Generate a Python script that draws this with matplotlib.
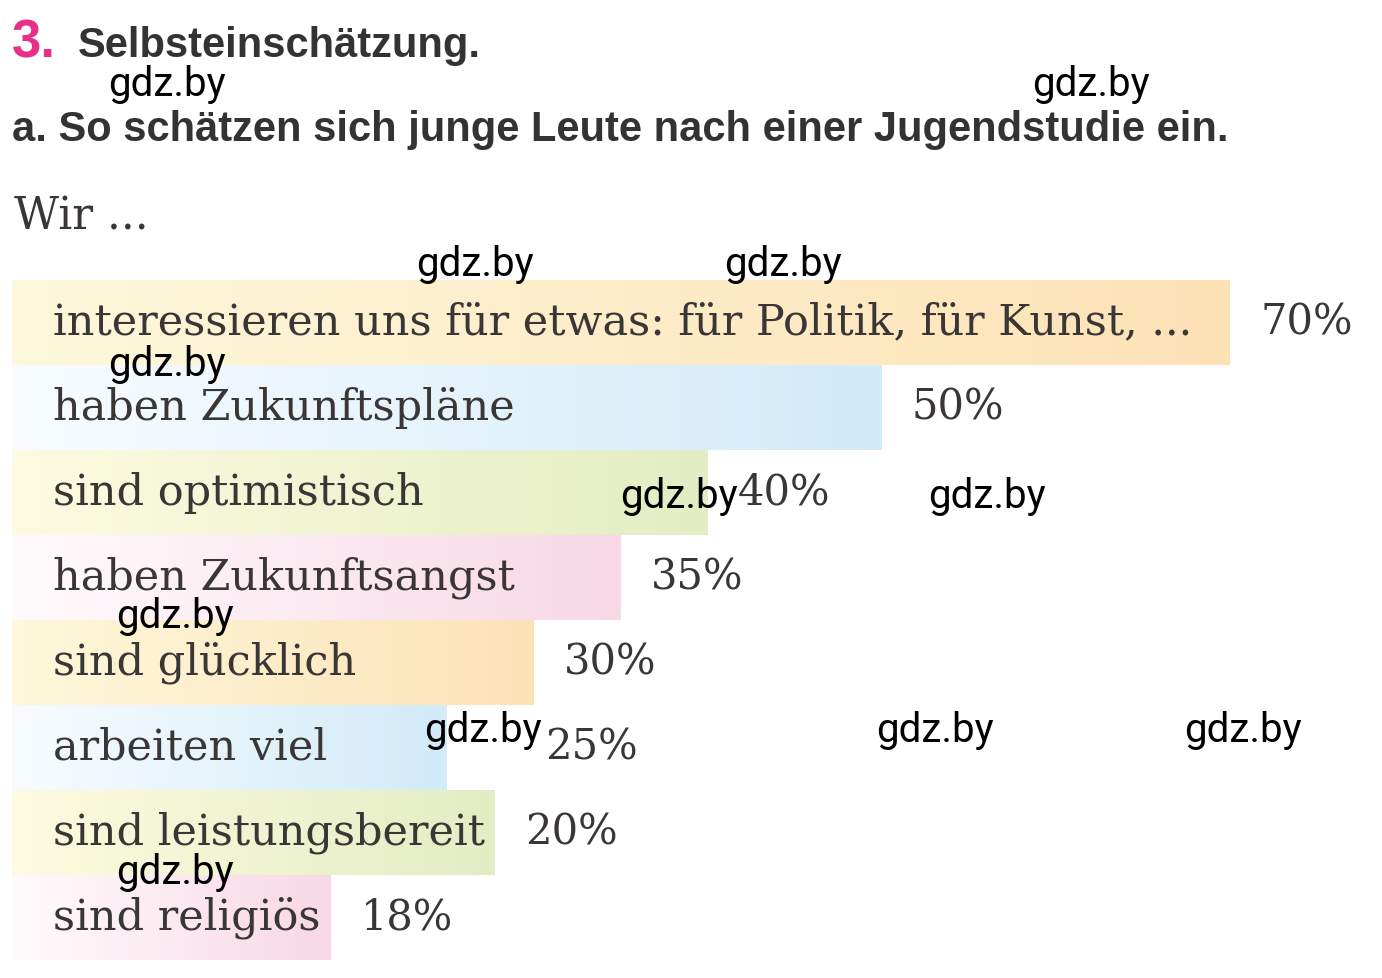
import matplotlib.pyplot as plt
import numpy as np
from matplotlib.colors import LinearSegmentedColormap

# chart data
labels = [
    "interessieren uns für etwas: für Politik, für Kunst, ...",
    "haben Zukunftspläne",
    "sind optimistisch",
    "haben Zukunftsangst",
    "sind glücklich",
    "arbeiten viel",
    "sind leistungsbereit",
    "sind religiös",
]
values = [70, 50, 40, 35, 30, 25, 20, 18]
value_labels = [f"{v}%" for v in values]

# gradient colours, left (pale) -> right (full)
start_colors = ["#fef8dc", "#f8fcff", "#fdfbe0", "#fffbfd"] * 2
end_colors = ["#fde2b6", "#d2ebf8", "#e3edc4", "#f8d8e5"] * 2

# watermark text positions (pixels, left / vertical centre)
watermark_pos = [
    (108, 85), (1032, 85), (416, 265), (724, 265), (108, 365),
    (620, 497), (928, 497), (116, 617), (424, 730), (876, 730),
    (1184, 730), (116, 873),
]

W, H = 1382, 979
fig = plt.figure(figsize=(W / 100, H / 100), dpi=100)
fig.patch.set_facecolor("white")


def fx(x):
    return x / W


def fy(y):
    return 1 - y / H


text_color = "#3a3636"
serif = "DejaVu Serif"
renderer = fig.canvas.get_renderer()

# headings
fig.text(fx(12), fy(57), "3.", fontsize=38, fontweight="heavy", color="#e8308a",
         family="Liberation Sans", va="baseline")
fig.text(fx(78), fy(57), "Selbsteinschätzung.", fontsize=30, fontweight="bold",
         color="#333333", family="Liberation Sans", va="baseline")
fig.text(fx(12), fy(141), "a. So schätzen sich junge Leute nach einer Jugendstudie ein.",
         fontsize=30, fontweight="bold", color="#333333", family="Liberation Sans",
         va="baseline")
fig.text(fx(14), fy(230), "Wir ...", fontsize=31.5, color=text_color, family=serif,
         va="baseline")

# watermarks
wm_boxes = []
for x, y in watermark_pos:
    wm = fig.text(fx(x), fy(y), "gdz.by", fontsize=29, color="black", family="Roboto",
                  va="center", ha="left", zorder=10)
    wm_boxes.append(wm.get_window_extent(renderer))

# bar area
left_px, top_px, bottom_px = 12, 281, 961
px_per_pct = 17.4
ax = fig.add_axes([fx(left_px), fy(bottom_px), fx(W) - fx(left_px),
                   (bottom_px - top_px) / H])
xmax = (W - left_px) / px_per_pct
ax.set_xlim(0, xmax)
ax.set_ylim(len(values) - 0.5, -0.5)
ax.axis("off")

grad = np.linspace(0, 1, 256).reshape(1, -1)
label_x = (53 - left_px) / px_per_pct

for i, (lab, v) in enumerate(zip(labels, values)):
    t = ax.text(label_x, i + 0.13, lab, fontsize=31, family=serif, color=text_color,
                va="baseline", ha="left", zorder=3)
    bb = t.get_window_extent(renderer)
    text_end = ax.transData.inverted().transform((bb.x1, 0))[0] + 10 / px_per_pct
    length = max(v, text_end)
    cmap = LinearSegmentedColormap.from_list(f"bar{i}", [start_colors[i], end_colors[i]])
    ax.imshow(grad, cmap=cmap, extent=(0, length, i + 0.495, i - 0.495),
              aspect="auto", interpolation="bicubic", zorder=1)
    vl = ax.annotate(value_labels[i], xy=(length, i + 0.13), xytext=(30, 0),
                     textcoords="offset pixels", fontsize=30, family=serif,
                     color=text_color, va="baseline", ha="left", zorder=3)
    # keep the percentage clear of a watermark sitting in the same row
    vb = vl.get_window_extent(renderer)
    for wb in wm_boxes:
        if vb.overlaps(wb):
            shift = wb.x1 + 3 - vb.x0
            vl.set_position((30 + shift, 0))
            vb = vl.get_window_extent(renderer)

ax.set_xlim(0, xmax)
ax.set_ylim(len(values) - 0.5, -0.5)

fig.savefig("out.png", dpi=100, facecolor="white")
